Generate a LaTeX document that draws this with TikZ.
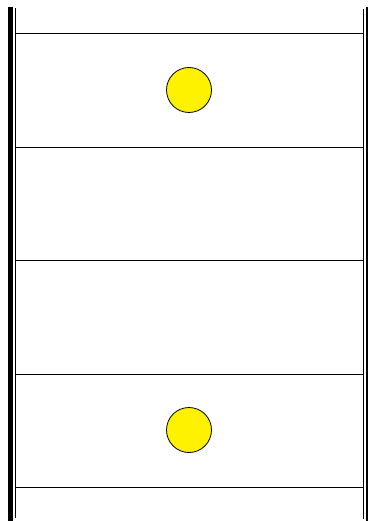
\documentclass[tikz,border=0pt]{standalone}
\begin{document}
\begin{tikzpicture}[x=1pt,y=-1pt,
  rung/.style={draw=black,line width=0.8pt},
  rail/.style={draw=black,line width=1pt},
  ball/.style={circle,draw=black,fill=yellow,line width=0.8pt,minimum size=45pt,inner sep=0pt}]
\useasboundingbox (0,0) rectangle (369,521);
\draw[line width=5pt] (10.5,7) -- (10.5,521);
\draw[rail] (15.8,8) -- (15.8,518);
\draw[rail] (363,9) -- (363,519);
\draw[line width=2pt] (367,7) -- (367,521);
\foreach \y in {33,147,260,374,487} \draw[rung] (15.8,\y) -- (363,\y);
\node[ball] (b1) at (189,90) {};
\node[ball] (b2) at (189,430) {};
\end{tikzpicture}
\end{document}
